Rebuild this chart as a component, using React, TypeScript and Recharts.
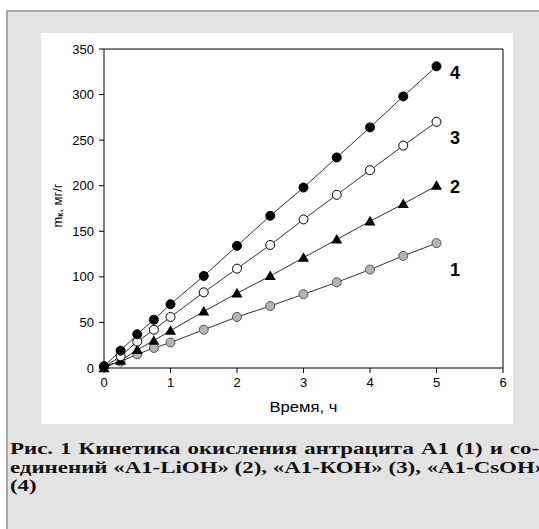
import React from "react";
import { LineChart, Line, XAxis, YAxis, ReferenceLine, ReferenceDot } from "recharts";

const times = [0, 0.25, 0.5, 0.75, 1, 1.5, 2, 2.5, 3, 3.5, 4, 4.5, 5];
const series1 = [2, 7, 15, 22, 28, 42, 56, 68, 81, 94, 108, 123, 137];
const series2 = [0, 8, 20, 30, 41, 62, 82, 101, 121, 141, 161, 180, 200];
const series3 = [1, 13, 29, 42, 56, 83, 109, 135, 163, 190, 217, 244, 270];
const series4 = [2, 19, 37, 53, 70, 101, 134, 167, 198, 231, 264, 298, 331];
const xTicks = [0, 1, 2, 3, 4, 5, 6];
const yTicks = [0, 50, 100, 150, 200, 250, 300, 350];
const curveNames = ["1", "2", "3", "4"];

const data = times.map((t, i) => ({
  t,
  s1: series1[i],
  s2: series2[i],
  s3: series3[i],
  s4: series4[i],
}));

// where the curve numbers sit, in data units
const nameAnchors = [
  { x: 5.28, y: 108 },
  { x: 5.28, y: 199 },
  { x: 5.28, y: 253 },
  { x: 5.28, y: 324 },
];

const sans = "'Liberation Sans', Arial, sans-serif";

const CircleDot = (fill: string, stroke: string) => (props: any) => {
  const { cx, cy, index } = props;
  if (cx == null || cy == null) return null;
  return <circle key={index} cx={cx} cy={cy} r={4.5} fill={fill} stroke={stroke} strokeWidth={1} />;
};

const TriangleDot = (props: any) => {
  const { cx, cy, index } = props;
  if (cx == null || cy == null) return null;
  const s = 5.5;
  return (
    <path
      key={index}
      d={`M${cx},${cy - s} L${cx + s},${cy + s * 0.75} L${cx - s},${cy + s * 0.75} Z`}
      fill="#000"
    />
  );
};

const YLabel = (props: any) => {
  const vb = props.viewBox || {};
  const x = 16;
  const y = vb.y + vb.height / 2 - 3;
  return (
    <text
      x={x}
      y={y}
      transform={`rotate(-90 ${x} ${y})`}
      textAnchor="middle"
      dominantBaseline="central"
      fontFamily={sans}
      fontSize={13}
      fill="#000"
    >
      m<tspan fontSize={9} dy={3}>к</tspan>
      <tspan dy={-3}>, мг/г</tspan>
    </text>
  );
};

const XLabel = (props: any) => {
  const vb = props.viewBox || {};
  const x = vb.x + vb.width / 2;
  const y = vb.y + vb.height - 12;
  return (
    <text
      x={x}
      y={y}
      textAnchor="middle"
      fontFamily={sans}
      fontSize={14}
      fill="#000"
      textLength={68}
      lengthAdjust="spacingAndGlyphs"
    >
      Время, ч
    </text>
  );
};

export default function App() {
  return (
    <div
      style={{
        position: "absolute",
        left: 0,
        top: 0,
        width: 539,
        height: 529,
        overflow: "hidden",
        background: "#fff",
      }}
    >
      <div
        style={{
          position: "absolute",
          left: 6,
          top: 10,
          width: 540,
          height: 530,
          background: "#e3e3e3",
          borderLeft: "2px solid #a8a8a8",
          borderTop: "2px solid #a8a8a8",
        }}
      />
      <div style={{ position: "absolute", left: 41, top: 33, width: 472, height: 391, background: "#fff" }}>
        <LineChart width={472} height={391} data={data} margin={{ top: 16, right: 10, left: 0, bottom: 0 }}>
          <XAxis
            dataKey="t"
            type="number"
            domain={[0, 6]}
            ticks={xTicks}
            tickSize={5}
            tickMargin={5}
            height={56}
            stroke="#000"
            tick={{ fontFamily: sans, fontSize: 13, fill: "#000" }}
            label={<XLabel />}
          />
          <YAxis
            type="number"
            domain={[0, 350]}
            ticks={yTicks}
            tickSize={5}
            tickMargin={5}
            width={63}
            stroke="#000"
            tick={{ fontFamily: sans, fontSize: 13, fill: "#000" }}
            label={<YLabel />}
          />
          <ReferenceLine y={350} stroke="#000" />
          <ReferenceLine x={6} stroke="#000" />
          <Line dataKey="s1" stroke="#333" strokeWidth={1} dot={CircleDot("#b4b4b4", "#555")} isAnimationActive={false} />
          <Line dataKey="s2" stroke="#333" strokeWidth={1} dot={TriangleDot} isAnimationActive={false} />
          <Line dataKey="s3" stroke="#333" strokeWidth={1} dot={CircleDot("#fff", "#000")} isAnimationActive={false} />
          <Line dataKey="s4" stroke="#333" strokeWidth={1} dot={CircleDot("#000", "#000")} isAnimationActive={false} />
          {nameAnchors.map((a, i) => (
            <ReferenceDot
              key={curveNames[i]}
              x={a.x}
              y={a.y}
              r={0}
              stroke="none"
              label={{
                value: curveNames[i],
                position: "center",
                style: { fontFamily: sans, fontSize: 18, fontWeight: "bold", fill: "#000" },
              }}
            />
          ))}
        </LineChart>
      </div>
      <div
        style={{
          position: "absolute",
          left: 10,
          top: 440,
          fontFamily: "'Liberation Serif', 'Times New Roman', serif",
          fontWeight: "bold",
          fontSize: 16,
          lineHeight: "18.5px",
          color: "#111",
          whiteSpace: "nowrap",
          transform: "scaleX(1.43)",
          transformOrigin: "0 0",
        }}
      >
        <div style={{ width: 370, textAlign: "justify", textAlignLast: "justify", whiteSpace: "normal" }}>
          Рис. 1 Кинетика окисления антрацита А1 (1) и со-
        </div>
        <div>единений «А1-LiОН» (2), «А1-КОН» (3), «А1-CsОН»</div>
        <div>(4)</div>
      </div>
    </div>
  );
}
